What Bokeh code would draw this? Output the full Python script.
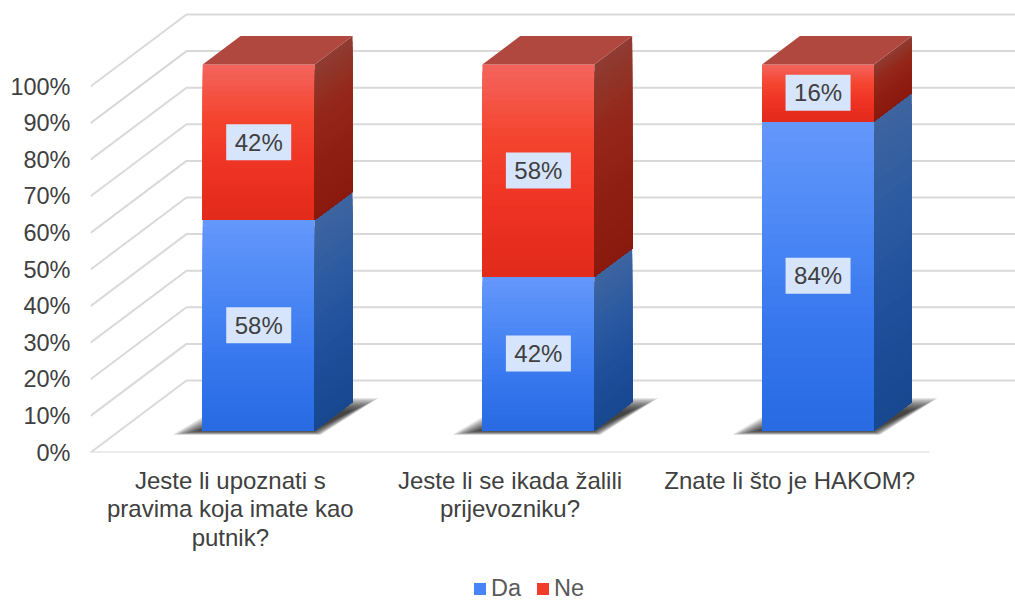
from bokeh.plotting import figure
from bokeh.layouts import column
from bokeh.models import Range1d, FixedTicker, Legend, LegendItem, ColumnDataSource
from bokeh.core.properties import value
from bokeh.embed import file_html
from bokeh.resources import INLINE

# ---- data
categories = ["Jeste li upoznati s\npravima koja imate kao\nputnik?",
              "Jeste li se ikada žalili\nprijevozniku?",
              "Znate li što je HAKOM?"]
series_names = ["Da", "Ne"]
da_values = [57.5, 42.0, 84.5]
ne_values = [42.5, 58.0, 15.5]
da_labels = ["58%", "42%", "84%"]
ne_labels = ["42%", "58%", "16%"]
y_ticks = [0, 10, 20, 30, 40, 50, 60, 70, 80, 90, 100]

# ---- style / projection
FONT = "Liberation Sans"
PX_X, PX_Y = 279.67, 3.66          # screen px per category, per percent
WALL_DX, WALL_DY = 96 / PX_X, 72 / PX_Y
BAR_W = 112 / PX_X
BAR_SHIFT = -1.0 / PX_X
D0, D1 = 0.306, 0.70               # bar's front and back depth
N = 30
BLUE = ["#6397FB", "#4C88F5", "#3777EE", "#286BE3"]
RED = ["#F4635B", "#F4452F", "#EE3323", "#E22B1B"]
BLUE_SIDE = ["#3D649F", "#2C5AA2", "#1F4F9A", "#184890"]
RED_SIDE = ["#8F3B31", "#95271A", "#8F1F12", "#8A1A0E"]
TOPS = "#B0483F"


def lerp(stops, t):
    t = t * (len(stops) - 1)
    k = min(int(t), len(stops) - 2)
    f = t - k
    a = [int(stops[k][j:j + 2], 16) for j in (1, 3, 5)]
    b = [int(stops[k + 1][j:j + 2], 16) for j in (1, 3, 5)]
    return "#%02x%02x%02x" % tuple(round(a[m] + (b[m] - a[m]) * f) for m in range(3))


def X(cat, across, depth):
    return cat + 0.5 + BAR_SHIFT + across * BAR_W / 2 + depth * WALL_DX


def Y(v, depth):
    return v + depth * WALL_DY


p = figure(width=1015, height=570, output_backend="svg", toolbar_location=None,
           x_range=Range1d(0, 925 / PX_X), y_range=Range1d(0, 452 / PX_Y),
           min_border_left=90, min_border_right=0, min_border_top=0, min_border_bottom=118,
           outline_line_color=None, background_fill_color="white", border_fill_color="white")
p.xgrid.visible = False
p.ygrid.visible = False

# axes
ya = p.yaxis[0]
ya.ticker = FixedTicker(ticks=y_ticks)
ya.major_label_overrides = {t: f"{t}%" for t in y_ticks}
ya.axis_line_color = None
ya.major_tick_line_color = None
ya.minor_tick_line_color = None
ya.major_tick_out = 0
ya.major_label_standoff = 20
ya.major_label_text_font = FONT
ya.major_label_text_font_size = "23.5px"
ya.major_label_text_color = "#404040"

xa = p.xaxis[0]
xa.ticker = FixedTicker(ticks=[i + 0.5 for i in range(3)])
xa.major_label_overrides = {i + 0.5: c for i, c in enumerate(categories)}
xa.axis_line_color = None
xa.major_tick_line_color = None
xa.minor_tick_line_color = None
xa.major_tick_out = 0
xa.major_label_standoff = 14
xa.major_label_text_font = FONT
xa.major_label_text_font_size = "24px"
xa.major_label_text_line_height = 1.06
xa.major_label_text_color = "#404040"

# wall / floor lines
gx, gy = [], []
for t in y_ticks:
    gx.append([0, WALL_DX, 3 + 2 * WALL_DX])
    gy.append([t, Y(t, 1), Y(t, 1)])
p.multi_line(gx, gy, line_color="#D9D9D9", line_width=2)
p.line([0, 3], [0, 0], line_color="#D9D9D9", line_width=2)

# base shadows: stacked soft layers, shrinking towards the bar
for i in range(3):
    for ins in range(14):
        dx = ins * 2.1 / PX_X
        low = Y(0, D0) - 1.2 + ins * 0.09
        high = Y(0, D1) + 1.1 - ins * 0.28
        xs = [X(i, -1, D0) - 30 / PX_X + dx, X(i, 1, D0) + 6 / PX_X - dx * 0.3,
              X(i, 1, D1) + 26 / PX_X - dx, X(i, -1, D1) - 6 / PX_X + dx]
        ys = [low, low, high, high]
        p.patch(xs, ys, fill_color="#1E1E1E", fill_alpha=0.11, line_color=None)


def stack_segment(i, lo, hi, front, side):
    """Gradient strips, painted top to bottom so no seams show."""
    out = []
    for k in range(N):
        v = hi - (hi - lo) * k / N
        t = k / (N - 1)
        out.append(([X(i, -1, D0), X(i, 1, D0), X(i, 1, D0), X(i, -1, D0)],
                    [Y(v, D0), Y(v, D0), Y(lo, D0), Y(lo, D0)], lerp(front, t), "front"))
    for k in range(N):
        v = hi - (hi - lo) * k / N
        t = k / (N - 1)
        out.append(([X(i, 1, D0), X(i, 1, D1), X(i, 1, D1), X(i, 1, D0)],
                    [Y(v, D0), Y(v, D1), Y(lo, D1), Y(lo, D0)], lerp(side, t), "side"))
    return out


blue_parts, red_parts = [], []
for i in range(3):
    blue_parts += stack_segment(i, 0, da_values[i], BLUE, BLUE_SIDE)
    red_parts += stack_segment(i, da_values[i], da_values[i] + ne_values[i], RED, RED_SIDE)


def draw(parts):
    src = ColumnDataSource(dict(xs=[q[0] for q in parts], ys=[q[1] for q in parts],
                                c=[q[2] for q in parts]))
    return p.patches("xs", "ys", source=src, fill_color="c", line_color=None)


draw(blue_parts)
draw(red_parts)

# tops of the bars
for i in range(3):
    top = da_values[i] + ne_values[i]
    p.patch([X(i, -1, D0), X(i, 1, D0), X(i, 1, D1), X(i, -1, D1)],
            [Y(top, D0), Y(top, D0), Y(top, D1), Y(top, D1)], fill_color=TOPS, line_color=None)

# data labels
lx, ly, lt = [], [], []
for i in range(3):
    lx += [X(i, 0, D0), X(i, 0, D0)]
    ly += [Y(da_values[i] / 2, D0), Y(da_values[i] + ne_values[i] / 2, D0)]
    lt += [da_labels[i], ne_labels[i]]
p.rect(lx, ly, width=65, height=36, width_units="screen", height_units="screen",
       fill_color="#D7E5FC", line_color=None)
p.text(lx, ly, text=lt, text_font=value(FONT), text_font_size="24px", text_color="#404040",
       text_align="center", text_baseline="middle")

# legend strip under the chart
p2 = figure(width=1015, height=30, output_backend="svg", toolbar_location=None,
            x_range=Range1d(0, 1), y_range=Range1d(0, 1), x_axis_location=None, y_axis_location=None,
            min_border=0, outline_line_color=None, background_fill_color="white", border_fill_color="white")
p2.xgrid.visible = False
p2.ygrid.visible = False
sw_b = p2.quad(left=[-2], right=[-1], bottom=[-2], top=[-1], fill_color=lerp(BLUE, 0.4), line_color=None)
sw_r = p2.quad(left=[-2], right=[-1], bottom=[-2], top=[-1], fill_color=lerp(RED, 0.5), line_color=None)
legend = Legend(items=[LegendItem(label=series_names[0], renderers=[sw_b]),
                       LegendItem(label=series_names[1], renderers=[sw_r])],
                orientation="horizontal", location=(382, -2), border_line_color=None,
                background_fill_alpha=0, padding=0, margin=0, glyph_width=15, glyph_height=15,
                label_standoff=4, spacing=14, label_text_font=FONT, label_text_font_size="23.5px",
                label_text_color="#595959")
p2.add_layout(legend)

root = column(p, p2, spacing=0)
open("out.html", "w").write(file_html(root, INLINE))
